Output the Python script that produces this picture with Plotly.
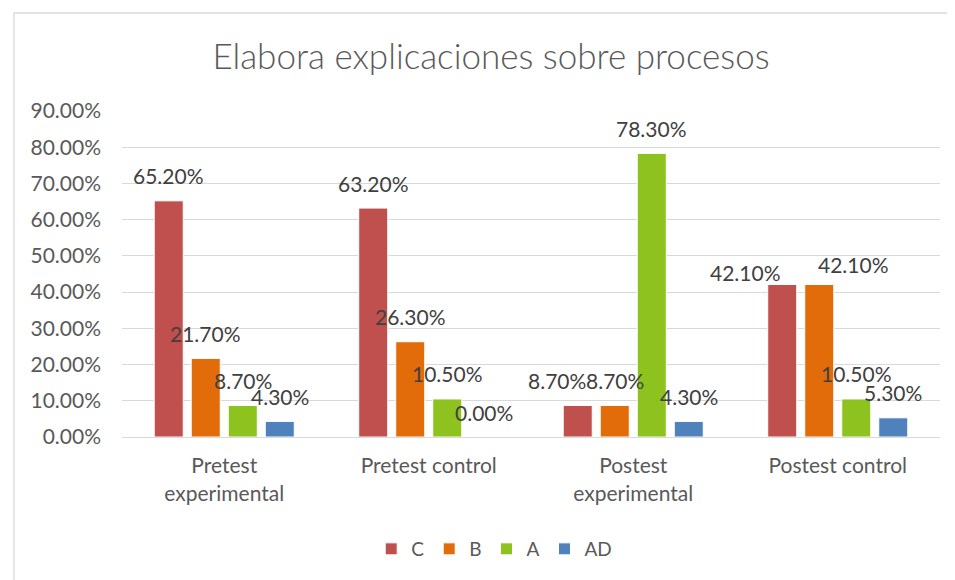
import plotly.graph_objects as go

categories = ["Pretest<br>experimental", "Pretest control", "Postest<br>experimental", "Postest control"]
series = ["C", "B", "A", "AD"]
c_vals = [0.652, 0.632, 0.087, 0.421]
b_vals = [0.217, 0.263, 0.087, 0.421]
a_vals = [0.087, 0.105, 0.783, 0.105]
ad_vals = [0.043, 0.000, 0.043, 0.053]
y_ticks = [0, 0.1, 0.2, 0.3, 0.4, 0.5, 0.6, 0.7, 0.8, 0.9]

colors = ["#C0504D", "#E36C0A", "#8DC21F", "#4F81BD"]
values = [c_vals, b_vals, a_vals, ad_vals]

# the page body adds an 8px margin, so the layout is shifted up/left by it
W, H = 955, 580
OFF = 8
m_l, m_t = 122 - OFF, 111 - OFF
m_r = W - (940 - OFF)
m_b = H - (437 - OFF)
plot_w = W - m_l - m_r
plot_h = H - m_t - m_b
bargap = 0.276
cat_px = plot_w / len(categories)
slot_px = (1 - bargap) * cat_px / len(series)

# hand-moved labels in the original (series index, category index) -> (dx, dy)
label_nudge = {
    (0, 2): (-21, 0),
    (0, 3): (-37, -13),
    (1, 3): (34, -5),
}

fig = go.Figure()
for s, name in enumerate(series):
    fig.add_trace(go.Bar(
        x=categories, y=values[s], name=name,
        marker=dict(color=colors[s], line=dict(color="white", width=1)),
        hovertemplate="%{x}: %{y:.2%}<extra>" + name + "</extra>",
    ))

annotations = []
for s in range(len(series)):
    for c, cat in enumerate(categories):
        dx, dy = label_nudge.get((s, c), (0, 0))
        annotations.append(dict(
            x=cat, y=values[s][c], xref="x", yref="y",
            text=f"{values[s][c] * 100:.2f}%", showarrow=False,
            xshift=(s - 1.5) * slot_px + dx, yshift=25 + dy,
            yanchor="middle", xanchor="center",
            font=dict(family="Lato", size=21, color="#404040"),
        ))

fig.update_layout(
    width=W, height=H,
    margin=dict(l=m_l, r=m_r, t=m_t, b=m_b),
    paper_bgcolor="white", plot_bgcolor="white",
    barmode="group", bargap=bargap, bargroupgap=0.216,
    title=dict(text="Elabora explicaciones sobre procesos", x=(491 - OFF) / W, xref="container",
               xanchor="center", y=1 - (57 - OFF) / H, yanchor="middle", yref="container",
               font=dict(family="Lato", size=35, color="#595959", weight=300)),
    font=dict(family="Lato", color="#595959"),
    yaxis=dict(range=[0, 0.9], tickvals=y_ticks, tickformat=".2%",
               showgrid=True, gridcolor="#D9D9D9", gridwidth=1.3,
               zeroline=False, showline=False, ticks="",
               ticklabelstandoff=20,
               tickfont=dict(family="Lato", size=21, color="#595959")),
    xaxis=dict(showline=True, linecolor="#D9D9D9", linewidth=1.3, ticks="",
               ticklabelstandoff=10,
               tickfont=dict(family="Lato", size=21, color="#595959")),
    legend=dict(orientation="h", x=0.455, xanchor="center", y=(437 - 549) / 326, yanchor="middle",
                font=dict(family="Lato", size=19, color="#595959"), itemwidth=30,
                traceorder="normal"),
    annotations=annotations,
    shapes=[dict(type="rect", xref="paper", yref="paper",
                 x0=(14 - OFF - m_l) / plot_w, x1=(975 - OFF - m_l) / plot_w,
                 y0=-0.6, y1=(H - m_b - (13 - OFF)) / plot_h,
                 line=dict(color="#D9D9D9", width=1.3), layer="below")],
)

fig.write_html("out.html")
